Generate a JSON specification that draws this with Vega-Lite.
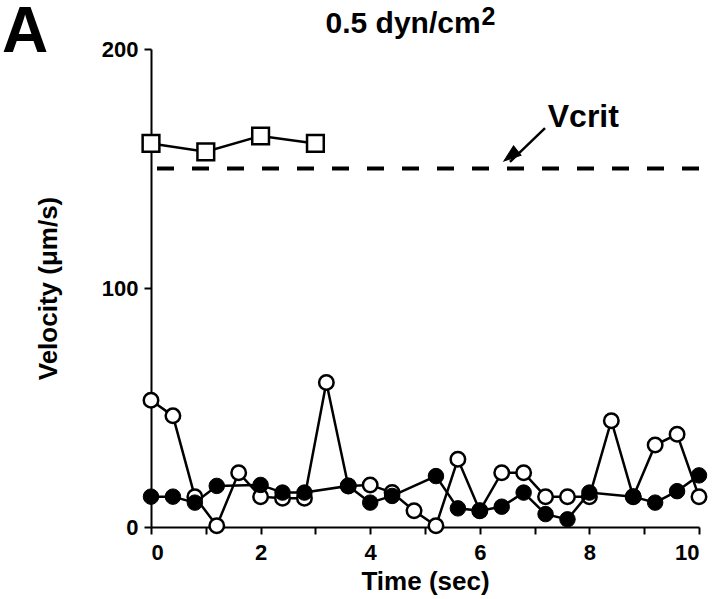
{
  "$schema": "https://vega.github.io/schema/vega-lite/v6.json",
  "width": 548,
  "height": 478,
  "autosize": {"type": "none"},
  "padding": {"left": 151, "top": 49, "right": 21, "bottom": 72},
  "config": {
    "font": "Liberation Sans",
    "view": {"stroke": null},
    "axis": {
      "grid": false,
      "domainColor": "black",
      "domainWidth": 2,
      "tickColor": "black",
      "tickWidth": 2,
      "tickSize": 7,
      "labelFont": "Liberation Sans",
      "labelFontWeight": "bold",
      "labelFontSize": 22,
      "labelColor": "black",
      "titleFont": "Liberation Sans",
      "titleFontWeight": "bold",
      "titleFontSize": 26,
      "titleColor": "black"
    }
  },
  "datasets": {
    "filled": [
      {"t": 0, "v": 12.7}, {"t": 0.4, "v": 12.7}, {"t": 0.8, "v": 10.2}, {"t": 1.2, "v": 17.2},
      {"t": 2.0, "v": 17.6}, {"t": 2.4, "v": 14.4}, {"t": 2.8, "v": 14.4}, {"t": 3.6, "v": 17.2},
      {"t": 4.0, "v": 10.2}, {"t": 4.4, "v": 13.0}, {"t": 5.2, "v": 21.3}, {"t": 5.6, "v": 7.8},
      {"t": 6.0, "v": 6.8}, {"t": 6.4, "v": 8.5}, {"t": 6.8, "v": 14.4}, {"t": 7.2, "v": 5.4},
      {"t": 7.6, "v": 3.2}, {"t": 8.0, "v": 14.4}, {"t": 8.8, "v": 12.7}, {"t": 9.2, "v": 10.2},
      {"t": 9.6, "v": 15.0}, {"t": 10.0, "v": 21.6}
    ],
    "open": [
      {"t": 0, "v": 53.0}, {"t": 0.4, "v": 46.5}, {"t": 0.8, "v": 12.7}, {"t": 1.2, "v": 0.5},
      {"t": 1.6, "v": 22.7}, {"t": 2.0, "v": 12.7}, {"t": 2.4, "v": 12.0}, {"t": 2.8, "v": 12.0},
      {"t": 3.2, "v": 60.5}, {"t": 3.6, "v": 17.2}, {"t": 4.0, "v": 17.6}, {"t": 4.4, "v": 14.4},
      {"t": 4.8, "v": 6.8}, {"t": 5.2, "v": 0.5}, {"t": 5.6, "v": 28.3}, {"t": 6.0, "v": 6.8},
      {"t": 6.4, "v": 22.7}, {"t": 6.8, "v": 22.7}, {"t": 7.2, "v": 12.7}, {"t": 7.6, "v": 12.7},
      {"t": 8.0, "v": 12.7}, {"t": 8.4, "v": 44.5}, {"t": 8.8, "v": 12.7}, {"t": 9.2, "v": 34.3},
      {"t": 9.6, "v": 38.8}, {"t": 10.0, "v": 12.7}
    ],
    "square": [
      {"t": 0, "v": 160.5}, {"t": 1, "v": 157.0}, {"t": 2, "v": 163.6}, {"t": 3, "v": 160.5}
    ],
    "vcrit": [{"v": 150}],
    "arrow": [{"t": 7.19, "v": 166.9, "t2": 6.55, "v2": 152.8}],
    "arrowhead": [{"t": 6.44, "v": 153.1}],
    "vcritlabel": [{"t": 7.24, "v": 167.4, "txt": "Vcrit"}],
    "panel": [{"t": -2.72, "v": 198.8, "txt": "A"}],
    "heading": [{"t": 4.6, "v": 206.6, "txt": "0.5 dyn/cm"}],
    "superscript": [{"t": 6.03, "v": 210.0, "txt": "2"}]
  },
  "encoding": {
    "x": {
      "field": "t", "type": "quantitative",
      "scale": {"domain": [0, 10], "nice": false, "zero": false},
      "axis": {
        "title": "Time (sec)",
        "values": [0, 1, 2, 3, 4, 5, 6, 7, 8, 9, 10],
        "labelExpr": "datum.value % 2 === 0 ? datum.label : ''",
        "labelPadding": 8,
        "titlePadding": 5
      }
    },
    "y": {
      "field": "v", "type": "quantitative",
      "scale": {"domain": [0, 200], "nice": false},
      "axis": {
        "title": "Velocity (μm/s)",
        "values": [0, 100, 200],
        "labelPadding": 6,
        "titlePadding": 40
      }
    }
  },
  "layer": [
    {
      "data": {"name": "vcrit"},
      "mark": {"type": "rule", "color": "black", "strokeWidth": 4, "strokeDash": [17, 18]},
      "encoding": {"x": null, "y": {"field": "v", "type": "quantitative"}}
    },
    {
      "data": {"name": "square"},
      "mark": {"type": "line", "color": "black", "strokeWidth": 2.5}
    },
    {
      "data": {"name": "square"},
      "mark": {"type": "point", "shape": "square", "size": 280, "filled": true, "fill": "white", "stroke": "black", "strokeWidth": 2.5, "opacity": 1}
    },
    {
      "data": {"name": "open"},
      "mark": {"type": "line", "color": "black", "strokeWidth": 2.5}
    },
    {
      "data": {"name": "open"},
      "mark": {"type": "point", "shape": "circle", "size": 210, "filled": true, "fill": "white", "stroke": "black", "strokeWidth": 2.5, "opacity": 1}
    },
    {
      "data": {"name": "filled"},
      "mark": {"type": "line", "color": "black", "strokeWidth": 2.5}
    },
    {
      "data": {"name": "filled"},
      "mark": {"type": "point", "shape": "circle", "size": 240, "filled": true, "fill": "black", "stroke": "black", "strokeWidth": 1, "opacity": 1}
    },
    {
      "data": {"name": "arrow"},
      "mark": {"type": "rule", "color": "black", "strokeWidth": 2.5},
      "encoding": {
        "x2": {"field": "t2"},
        "y2": {"field": "v2"}
      }
    },
    {
      "data": {"name": "arrowhead"},
      "mark": {"type": "point", "shape": "M0,0L-0.6,1.7L0.6,1.7Z", "size": 400, "angle": 231.7, "filled": true, "fill": "black", "stroke": "black", "strokeWidth": 1, "opacity": 1}
    },
    {
      "data": {"name": "vcritlabel"},
      "mark": {"type": "text", "align": "left", "baseline": "alphabetic", "fontWeight": "bold", "font": "Liberation Sans", "fontSize": 32, "color": "black", "clip": false},
      "encoding": {"text": {"field": "txt"}}
    },
    {
      "data": {"name": "panel"},
      "mark": {"type": "text", "align": "left", "baseline": "alphabetic", "fontWeight": "bold", "font": "Liberation Sans", "fontSize": 64, "color": "black", "clip": false},
      "encoding": {"text": {"field": "txt"}}
    },
    {
      "data": {"name": "heading"},
      "mark": {"type": "text", "align": "center", "baseline": "alphabetic", "fontWeight": "bold", "font": "Liberation Sans", "fontSize": 30, "color": "black", "clip": false},
      "encoding": {"text": {"field": "txt"}}
    },
    {
      "data": {"name": "superscript"},
      "mark": {"type": "text", "align": "left", "baseline": "alphabetic", "fontWeight": "bold", "font": "Liberation Sans", "fontSize": 25, "color": "black", "clip": false},
      "encoding": {"text": {"field": "txt"}}
    }
  ]
}
